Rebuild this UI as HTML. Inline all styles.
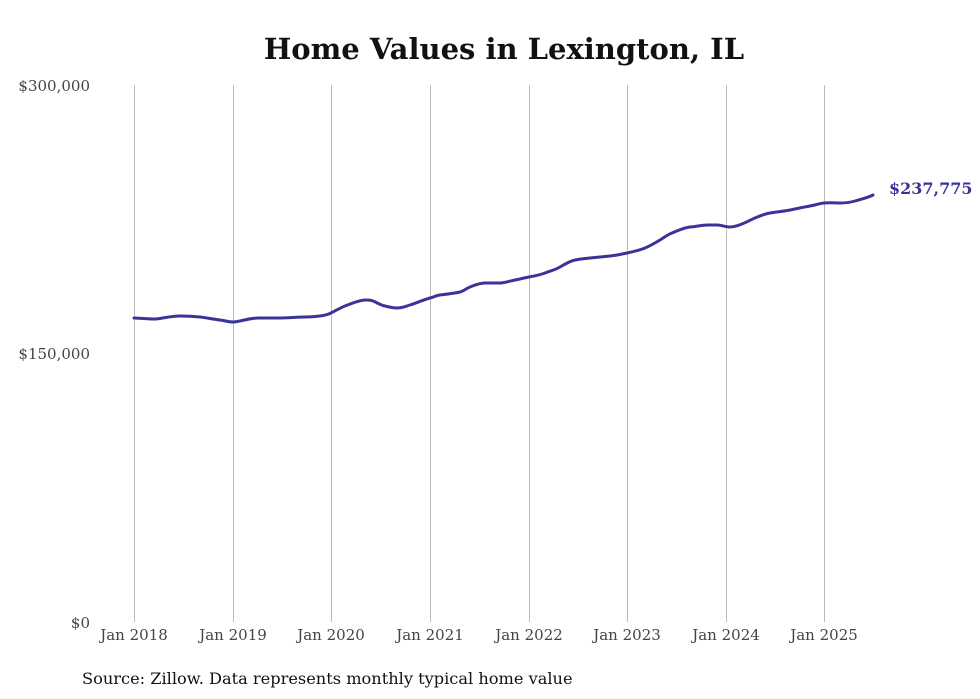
<!DOCTYPE html>
<html><head><meta charset="utf-8"><style>
html,body{margin:0;padding:0;background:#fff;}
svg{display:block;font-family:"DejaVu Serif","Liberation Serif",serif;}
</style></head><body>
<svg width="980" height="699" viewBox="0 0 980 699" xmlns="http://www.w3.org/2000/svg">
<rect width="980" height="699" fill="#fff"/>
<text x="504" y="59" text-anchor="middle" font-size="29" font-weight="bold" fill="#111">Home Values in Lexington, IL</text>
<g stroke="#bbb" stroke-width="1">
<line x1="134.5" y1="85" x2="134.5" y2="622"/>
<line x1="233.5" y1="85" x2="233.5" y2="622"/>
<line x1="331.5" y1="85" x2="331.5" y2="622"/>
<line x1="430.5" y1="85" x2="430.5" y2="622"/>
<line x1="529.5" y1="85" x2="529.5" y2="622"/>
<line x1="627.5" y1="85" x2="627.5" y2="622"/>
<line x1="726.5" y1="85" x2="726.5" y2="622"/>
<line x1="824.5" y1="85" x2="824.5" y2="622"/>
</g>
<g font-size="15" fill="#444">
<text x="90" y="91" text-anchor="end">$300,000</text>
<text x="90" y="359" text-anchor="end">$150,000</text>
<text x="90" y="628" text-anchor="end">$0</text>
</g>
<g font-size="15" fill="#444" text-anchor="middle">
<text x="134" y="640">Jan 2018</text>
<text x="233" y="640">Jan 2019</text>
<text x="331" y="640">Jan 2020</text>
<text x="430" y="640">Jan 2021</text>
<text x="529" y="640">Jan 2022</text>
<text x="627" y="640">Jan 2023</text>
<text x="726" y="640">Jan 2024</text>
<text x="824" y="640">Jan 2025</text>
</g>
<path fill="none" stroke="#3a3499" stroke-width="3" stroke-linecap="round" d="M134,318 C145,318.5 150,319 155,319 S170,316 180,316 S195,316.5 200,317 S215,319.5 220,320 S228,322 233,322 S250,318 258,318 S275,318 280,318 S300,317 305,317 S316,316.5 320,316 S327,315 331,313 S340,308 345,306 S360,300 365,300 S370,300 373,301 S380,305 385,306 S392,308 397,308 S405,306.5 410,305 S423,300 430,298 S436,295.5 440,295 S456,293 460,292 S466,288.5 470,287 S479,283 485,283 S496,283 500,283 S510,281 515,280 S524,278 529,277 S540,275 545,273 S555,270 560,267 S570,261 575,260 S585,258.5 590,258 S605,256.5 610,256 S620,254.5 627,253 S640,250 645,248 S655,243 660,240 S667,235 672,233 S684,227.5 690,227 S702,225 708,225 S715,225 718,225 S725,227 730,227 S738,225.5 742,224 S750,220 755,218 S764,214 770,213 S785,211 790,210 S804,207 810,206 S819,203.5 824,203 S835,203 840,203 S850,202.5 855,201 S867,198 873,195"/>
<text x="889" y="194" font-size="16" font-weight="bold" fill="#3a3499">$237,775</text>
<text x="82" y="684" font-size="16.2" fill="#111">Source: Zillow. Data represents monthly typical home value</text>
</svg>
</body></html>
